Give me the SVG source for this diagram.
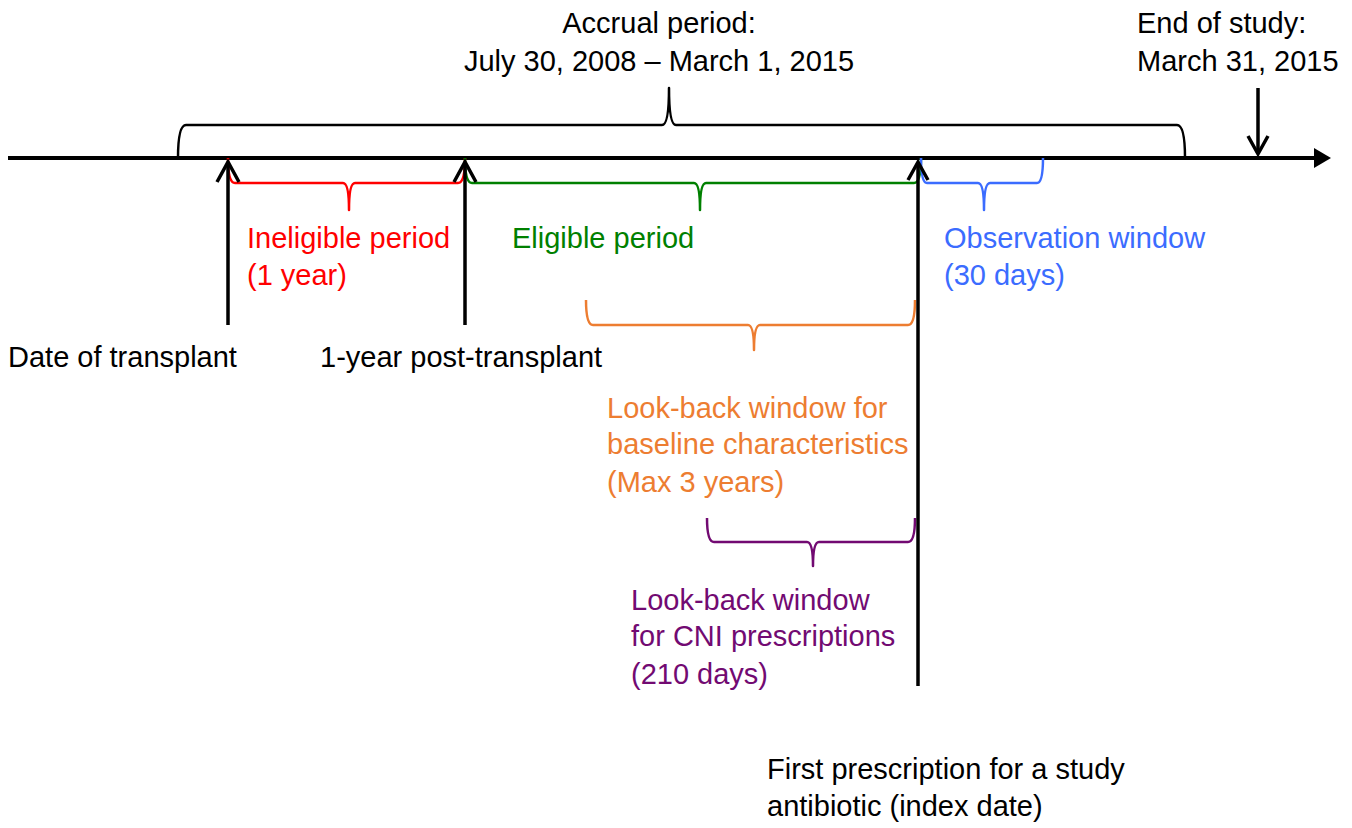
<svg xmlns="http://www.w3.org/2000/svg" width="1352" height="828" viewBox="0 0 1352 828">
<style>
text{font-family:"Liberation Sans",Arial,sans-serif;font-size:29px;fill:#000}
.brace{fill:none;stroke-width:2.5;stroke-linejoin:round}
.arr{fill:none;stroke:#000;stroke-width:3.5;stroke-linecap:butt;stroke-linejoin:miter}
.red{fill:#ff0000}.green{fill:#008000}.blue{fill:#3b6cff}.orange{fill:#ed7d31}.purple{fill:#720a72}
</style>
<rect width="1352" height="828" fill="#fff"/>
<g id="connectors">
<line x1="8" y1="158" x2="1318" y2="158" stroke="#000" stroke-width="4"/>
<polygon points="1314,148 1331,158 1314,168" fill="#000"/>
<path class="brace" stroke="#000" stroke-width="2" d="M178,158 Q178,125 186,125 L662,125 Q669,125 669,88 Q669,125 676,125 L1177,125 Q1185,125 1185,158"/>
<path class="brace" stroke="#ff0000" d="M228,158 Q228,183 235,183 L343,183 Q349,183 349,210 Q349,183 355,183 L458,183 Q465,183 465,158"/>
<path class="brace" stroke="#008000" d="M465,158 Q465,183 472,183 L694,183 Q700,183 700,210 Q700,183 706,183 L914,183 Q921,183 921,158"/>
<path class="brace" stroke="#3b6cff" d="M921,158 Q921,183 927,183 L978,183 Q984,183 984,210 Q984,183 990,183 L1037,183 Q1043,183 1043,158"/>
<path class="brace" stroke="#ed7d31" d="M586,300 Q586,325 593,325 L748,325 Q754,325 754,350 Q754,325 760,325 L908,325 Q915,325 915,300"/>
<path class="brace" stroke="#720a72" d="M707,518 Q707,542 714,542 L807,542 Q813,542 813,566 Q813,542 819,542 L908,542 Q915,542 915,518"/>
<line class="arr" x1="228" y1="325" x2="228" y2="162"/>
<polyline class="arr" points="217,182 228,162 239,182"/>
<line class="arr" x1="465" y1="325" x2="465" y2="162"/>
<polyline class="arr" points="454,182 465,162 476,182"/>
<line class="arr" x1="918" y1="686" x2="918" y2="162"/>
<polyline class="arr" points="908,180 918,162 928,180"/>
<line class="arr" x1="1258" y1="88" x2="1258" y2="154"/>
<polyline class="arr" points="1248,136 1258,154 1268,136"/>
</g>
<g id="accrual"><text x="659" y="33" text-anchor="middle">Accrual period:</text><text x="659" y="71" text-anchor="middle">July 30, 2008 – March 1, 2015</text></g>
<g id="end-of-study"><text x="1137" y="33">End of study:</text><text x="1137" y="71">March 31, 2015</text></g>
<g id="ineligible"><text class="red" x="247" y="248">Ineligible period</text><text class="red" x="247" y="285">(1 year)</text></g>
<g id="eligible"><text class="green" x="512" y="248">Eligible period</text></g>
<g id="observation"><text class="blue" x="944" y="248">Observation window</text><text class="blue" x="944" y="285">(30 days)</text></g>
<g id="transplant"><text x="8" y="367">Date of transplant</text></g>
<g id="post-transplant"><text x="320" y="367">1-year post-transplant</text></g>
<g id="lookback-baseline"><text class="orange" x="607" y="418">Look-back window for</text><text class="orange" x="607" y="454">baseline characteristics</text><text class="orange" x="607" y="492">(Max 3 years)</text></g>
<g id="lookback-cni"><text class="purple" x="631" y="610">Look-back window</text><text class="purple" x="631" y="646">for CNI prescriptions</text><text class="purple" x="631" y="684">(210 days)</text></g>
<g id="index-date"><text x="767" y="779">First prescription for a study</text><text x="767" y="816">antibiotic (index date)</text></g>
</svg>
